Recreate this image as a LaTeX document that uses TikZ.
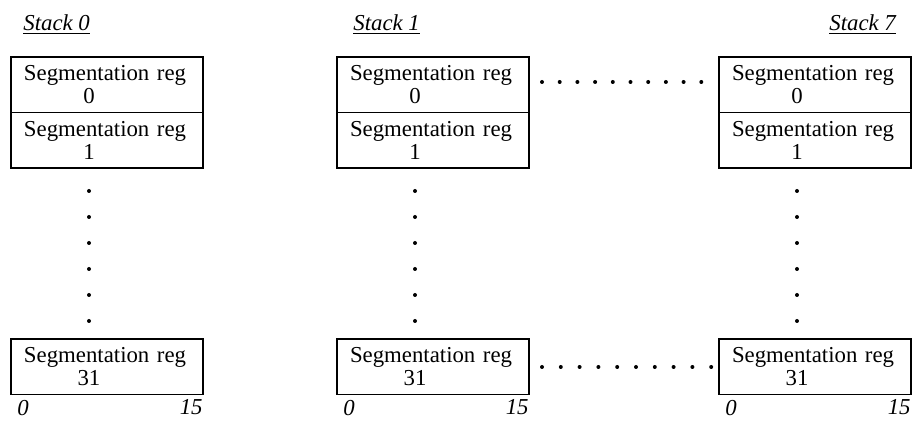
\documentclass[tikz,border=0pt]{standalone}
\usepackage{fontspec}
\setmainfont{Liberation Serif}
\usetikzlibrary{positioning}

\newcommand{\regtext}[1]{Segmentation reg\\\hspace*{26pt}\makebox[13pt]{#1}}

\begin{document}
\begin{tikzpicture}[x=1pt, y=1pt,
    reg/.style={rectangle, draw, line width=0.75pt, outer sep=0pt, minimum width=96pt, minimum height=27.75pt, text width=83pt, inner xsep=6.5pt, inner ysep=0pt, align=left, font=\fontsize{11.4pt}{11.5pt}\selectfont},
    stacklabel/.style={inner sep=0pt, font=\fontsize{11.4pt}{12pt}\selectfont\itshape},
    bitlabel/.style={inner sep=0pt, font=\fontsize{11.4pt}{12pt}\selectfont\itshape},
    dotline/.style={line width=2pt, line cap=round, dash pattern=on 0pt off #1}
]
\useasboundingbox (0,0) rectangle (456,210.5);

% stack 0
\node[reg, anchor=north west] (s0r0) at (5.5,182) {\regtext{0}};
\node[reg, below=0pt of s0r0] (s0r1) {\regtext{1}};
\node[reg, anchor=north west] (s0r31) at (5.5,41) {\regtext{31}};
\node[stacklabel, above right=11pt and 6pt of s0r0.north west] (s0name) {\underline{Stack 0}};

% stack 1
\node[reg, anchor=north west] (s1r0) at (168.5,182) {\regtext{0}};
\node[reg, below=0pt of s1r0] (s1r1) {\regtext{1}};
\node[reg, anchor=north west] (s1r31) at (168.5,41) {\regtext{31}};
\node[stacklabel, above right=11pt and 8pt of s1r0.north west] (s1name) {\underline{Stack 1}};

% stack 7
\node[reg, anchor=north west] (s7r0) at (359.5,182) {\regtext{0}};
\node[reg, below=0pt of s7r0] (s7r1) {\regtext{1}};
\node[reg, anchor=north west] (s7r31) at (359.5,41) {\regtext{31}};
\node[stacklabel, above right=11pt and 55pt of s7r0.north west] (s7name) {\underline{Stack 7}};

% bit numbers
\node[bitlabel, anchor=north west] (s0lo) at ([shift={(3pt,-2.5pt)}]s0r31.south west) {0};
\node[bitlabel, anchor=north east] (s0hi) at ([yshift=-2.5pt]s0r31.south east) {15};
\node[bitlabel, anchor=north west] (s1lo) at ([shift={(3pt,-2.5pt)}]s1r31.south west) {0};
\node[bitlabel, anchor=north east] (s1hi) at ([yshift=-2.5pt]s1r31.south east) {15};
\node[bitlabel, anchor=north west] (s7lo) at ([shift={(3pt,-2.5pt)}]s7r31.south west) {0};
\node[bitlabel, anchor=north east] (s7hi) at ([yshift=-2.5pt]s7r31.south east) {15};

% dots down each stack
\draw[dotline=13pt] ([shift={(39pt,-11.5pt)}]s0r1.south west) -- ([shift={(39pt,8.5pt)}]s0r31.north west);
\draw[dotline=13pt] ([shift={(39pt,-11.5pt)}]s1r1.south west) -- ([shift={(39pt,8.5pt)}]s1r31.north west);
\draw[dotline=13pt] ([shift={(39pt,-11.5pt)}]s7r1.south west) -- ([shift={(39pt,8.5pt)}]s7r31.north west);

% dots across the stacks
\draw[dotline=8.85pt] ([shift={(6.5pt,-12.5pt)}]s1r0.north east) -- ([shift={(-8.5pt,-12.5pt)}]s7r0.north west);
\draw[dotline=9.4pt] ([shift={(6.5pt,-14pt)}]s1r31.north east) -- ([shift={(-3.5pt,-14pt)}]s7r31.north west);
\end{tikzpicture}
\end{document}
